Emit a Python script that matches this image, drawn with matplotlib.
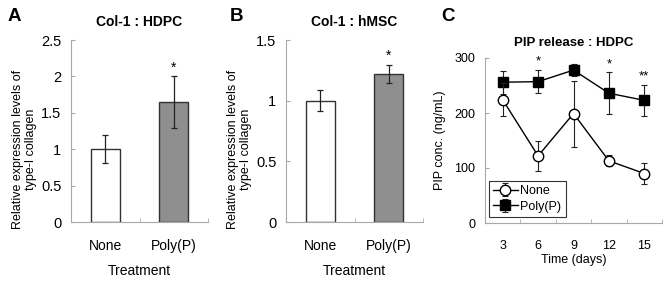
import matplotlib
matplotlib.use("Agg")
import matplotlib.pyplot as plt
from matplotlib.ticker import FixedLocator

plt.rcParams['font.family'] = ['Liberation Sans', 'DejaVu Sans']

# ---- data ----
categories = ["None", "Poly(P)"]
a_values = [1.0, 1.65]
a_errors = [0.19, 0.36]
b_values = [1.0, 1.22]
b_errors = [0.085, 0.078]
bar_colors = ["white", "#8f8f8f"]

days = [3, 6, 9, 12, 15]
none_vals = [224, 122, 199, 113, 90]
none_errs = [30, 28, 60, 10, 19]
poly_vals = [256, 257, 278, 236, 223]
poly_errs = [21, 21, 11, 38, 28]
stars_c = {6: "*", 12: "*", 15: "**"}

W, H = 668, 282
fig = plt.figure(figsize=(W / 100, H / 100), dpi=100)

SPINE = "#a8a8a8"


def px_axes(l, r, t, b):
    return fig.add_axes([l / W, (H - b) / H, (r - l) / W, (b - t) / H])


def style(ax):
    for s in ["top", "right"]:
        ax.spines[s].set_visible(False)
    for s in ["left", "bottom"]:
        ax.spines[s].set_color(SPINE)
        ax.spines[s].set_linewidth(0.8)


def bar_panel(ax, vals, errs, ymax, yticks, yticklabels, title, star_y):
    x = list(range(len(categories)))
    ax.bar(x, vals, width=0.42, color=bar_colors, edgecolor="#333333", linewidth=1.0, zorder=2)
    ax.errorbar(x, vals, yerr=errs, fmt="none", ecolor="#222222", elinewidth=0.9,
                capsize=2.5, capthick=0.9, zorder=3)
    ax.text(1, star_y, "*", ha="center", va="bottom", fontsize=10)
    ax.set_xlim(-0.5, 1.5)
    ax.set_ylim(0, ymax)
    style(ax)
    ax.set_yticks(yticks)
    ax.set_yticklabels(yticklabels, fontsize=10.5)
    ax.tick_params(axis="y", direction="in", length=3, color=SPINE, pad=7)
    ax.set_xticks(x)
    ax.set_xticklabels(categories, fontsize=10)
    ax.tick_params(axis="x", which="major", length=0, pad=12)
    ax.xaxis.set_minor_locator(FixedLocator([-0.5, 0.5, 1.5]))
    ax.tick_params(axis="x", which="minor", direction="in", length=3, color=SPINE)
    ax.set_xlabel("Treatment", fontsize=10, labelpad=8)
    ax.set_ylabel("Relative expression levels of\ntype-I collagen", fontsize=9,
                  linespacing=1.2)
    ax.yaxis.set_label_coords(-0.245, 0.40)
    ax.set_title(title, fontsize=10, fontweight="bold", pad=10)
    return ax


axA = px_axes(71, 208, 40, 222)
bar_panel(axA, a_values, a_errors, 2.5, [0, 0.5, 1, 1.5, 2, 2.5],
          ["0", "0.5", "1", "1.5", "2", "2.5"], "Col-1 : HDPC", 2.02)

axB = px_axes(286, 423, 40, 222)
bar_panel(axB, b_values, b_errors, 1.5, [0, 0.5, 1, 1.5],
          ["0", "0.5", "1", "1.5"], "Col-1 : hMSC", 1.31)

axC = px_axes(485, 662, 58, 223)
axC.errorbar(days, poly_vals, yerr=poly_errs, color="black", ecolor="#222222", elinewidth=0.8,
             capsize=2.5, capthick=0.8, linewidth=1.0, marker="s", markersize=7.5,
             markerfacecolor="black", markeredgecolor="black", label="Poly(P)", zorder=3)
axC.errorbar(days, none_vals, yerr=none_errs, color="black", ecolor="#222222", elinewidth=0.8,
             capsize=2.5, capthick=0.8, linewidth=1.0, marker="o", markersize=7.5,
             markerfacecolor="white", markeredgecolor="black", label="None", zorder=4)
for d, s in stars_c.items():
    i = days.index(d)
    axC.text(d, poly_vals[i] + poly_errs[i] + 4, s, ha="center", va="bottom", fontsize=9.5)
axC.set_xlim(1.5, 16.5)
axC.set_ylim(0, 300)
style(axC)
axC.set_yticks([0, 100, 200, 300])
axC.tick_params(axis="y", direction="in", length=3, color=SPINE, labelsize=9, pad=7)
axC.set_xticks(days)
axC.tick_params(axis="x", which="major", length=0, labelsize=9, pad=12)
axC.xaxis.set_minor_locator(FixedLocator([1.5, 4.5, 7.5, 10.5, 13.5, 16.5]))
axC.tick_params(axis="x", which="minor", direction="in", length=3, color=SPINE)
axC.set_xlabel("Time (days)", fontsize=9, labelpad=2)
axC.set_ylabel("PIP conc. (ng/mL)", fontsize=9, labelpad=6)
axC.set_title("PIP release : HDPC", fontsize=9.5, fontweight="bold", pad=9)
handles, labels = axC.get_legend_handles_labels()
leg = axC.legend(handles[::-1], labels[::-1], loc="lower left", bbox_to_anchor=(0.02, 0.035),
                 fontsize=9, frameon=True, fancybox=False, edgecolor="black",
                 handlelength=2.0, handletextpad=0.2, borderpad=0.35, labelspacing=0.3,
                 borderaxespad=0)
leg.get_frame().set_linewidth(0.8)

for letter, xpx in [("A", 8), ("B", 230), ("C", 441)]:
    fig.text(xpx / W, 1 - 21 / H, letter, fontsize=13.5, fontweight="bold", ha="left", va="baseline")

fig.savefig("out.png", dpi=100)
